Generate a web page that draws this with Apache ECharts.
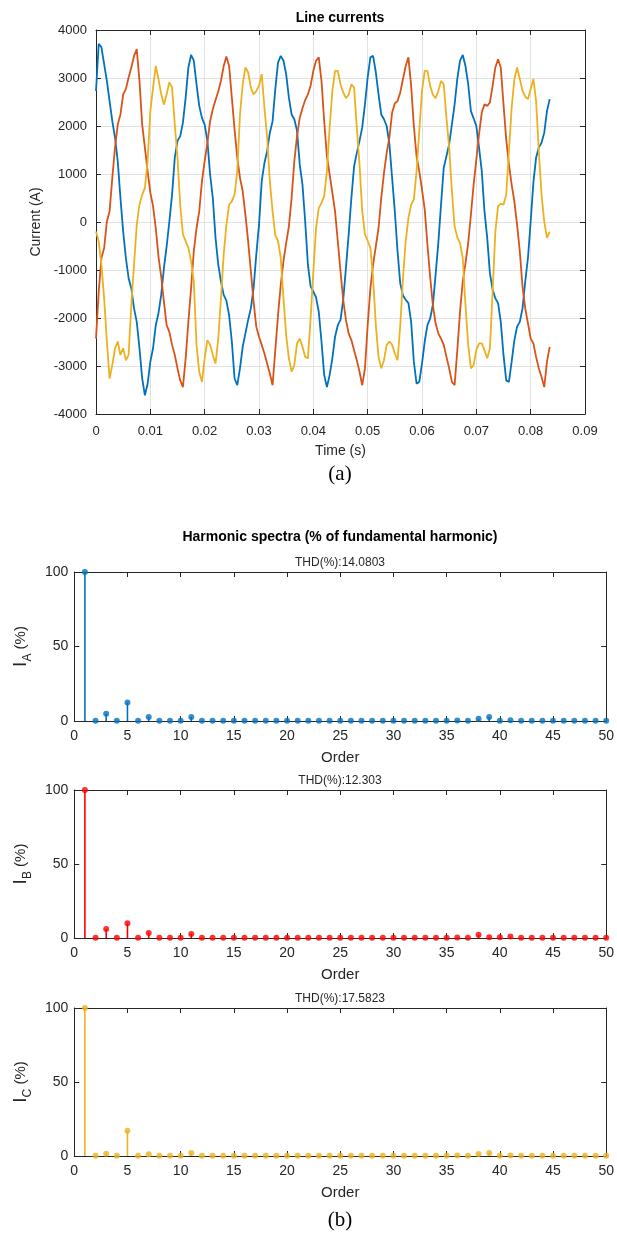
<!DOCTYPE html>
<html><head><meta charset="utf-8">
<script src="https://cdn.jsdelivr.net/npm/echarts@6/dist/echarts.min.js"></script>
<style>html,body{margin:0;padding:0;background:#fff}#c{width:617px;height:1233px}</style>
</head><body><div id="c"></div>
<script>
// ---- Line currents (time in s, currents in A) ----
const TIME = [
0,0.0005,0.001,0.0015,0.002,0.0025,0.003,0.0035,0.004,0.0045,
0.005,0.0055,0.006,0.0065,0.007,0.0075,0.008,0.0085,0.009,0.0095,
0.01,0.0105,0.011,0.0115,0.012,0.0125,0.013,0.0135,0.014,0.0145,
0.015,0.0155,0.016,0.0165,0.017,0.0175,0.018,0.0185,0.019,0.0195,
0.02,0.0205,0.021,0.0215,0.022,0.0225,0.023,0.0235,0.024,0.0245,
0.025,0.0255,0.026,0.0265,0.027,0.0275,0.028,0.0285,0.029,0.0295,
0.03,0.0305,0.031,0.0315,0.032,0.0325,0.033,0.0335,0.034,0.0345,
0.035,0.0355,0.036,0.0365,0.037,0.0375,0.038,0.0385,0.039,0.0395,
0.04,0.0405,0.041,0.0415,0.042,0.0425,0.043,0.0435,0.044,0.0445,
0.045,0.0455,0.046,0.0465,0.047,0.0475,0.048,0.0485,0.049,0.0495,
0.05,0.0505,0.051,0.0515,0.052,0.0525,0.053,0.0535,0.054,0.0545,
0.055,0.0555,0.056,0.0565,0.057,0.0575,0.058,0.0585,0.059,0.0595,
0.06,0.0605,0.061,0.0615,0.062,0.0625,0.063,0.0635,0.064,0.0645,
0.065,0.0655,0.066,0.0665,0.067,0.0675,0.068,0.0685,0.069,0.0695,
0.07,0.0705,0.071,0.0715,0.072,0.0725,0.073,0.0735,0.074,0.0745,
0.075,0.0755,0.076,0.0765,0.077,0.0775,0.078,0.0785,0.079,0.0795,
0.08,0.0805,0.081,0.0815,0.082,0.0825,0.083,0.0835
];
const PHASE_A = [
2730,3710,3640,3290,2940,2520,2100,1760,1270,500,-200,-750,-1170,-1380,-1800,-2080,-2630,-3260,-3610,-3370,
-2910,-2630,-2150,-1900,-1520,-960,-510,10,570,1340,1690,1790,2070,2590,3220,3480,
3360,2870,2420,2170,2030,1690,990,500,-330,-890,-1240,-1520,-1640,-1940,-2490,-3260,-3400,-3050,-2600,-2320,
-2040,-1800,-1380,-680,-60,850,1230,1480,1860,2100,2770,3320,3460,3360,3080,2590,
2240,2140,1900,1200,780,10,-890,-1340,-1450,-1570,-1870,-2490,-3190,-3440,-3190,-2840,-2390,-2150,-2040,-1620,
-960,-260,500,1160,1440,1690,1970,2450,3010,3430,3460,3120,2660,2240,2140,2000,
1620,920,220,-610,-1280,-1530,-1620,-1690,-2080,-2910,-3370,-3330,-2950,-2490,-2150,-2010,-1730,-1100,-440,360,
1130,1370,1620,2030,2450,2980,3360,3480,3250,2870,2310,2160,2000,1550,1060,220,
-330,-1070,-1410,-1590,-1690,-2080,-2770,-3300,-3330,-2910,-2460,-2180,-2080,-1800,-1240,-750,10,820,1340,1550,
1650,1860,2310,2560
];
const PHASE_B = [
-2430,-1450,-750,-540,10,220,920,1550,2030,2240,2660,2770,3010,3220,3460,3600,2940,2030,1550,1060,
610,330,-130,-720,-1140,-1660,-2150,-2290,-2560,-2770,-3050,-3300,-3440,-2840,-2080,-1380,
-610,-130,220,850,1270,1650,2100,2350,2540,2720,2940,3250,3450,3250,2590,1930,1340,920,640,150,
-400,-1030,-1660,-2180,-2390,-2560,-2740,-2950,-3160,-3400,-2670,-1940,-1310,-820,-440,-90,
500,1270,1790,2170,2370,2540,2660,2840,3150,3360,3430,2940,2100,1370,990,610,220,-400,-1030,-1620,
-2040,-2320,-2460,-2670,-2880,-3120,-3400,-3050,-2150,-1380,-890,-510,-130,500,1020,1440,
1760,2280,2470,2520,2700,2980,3250,3430,2840,2000,1370,1060,680,260,-470,-1140,-1730,-2110,-2320,-2430,
-2560,-2810,-3050,-3330,-3400,-2670,-1870,-1240,-860,-440,150,780,1300,1830,2280,2450,
2420,2490,2840,3220,3390,3220,2450,1720,1200,780,430,-60,-610,-1340,-1800,-2110,-2430,-2530,-2810,-3050,
-3230,-3440,-2910,-2600
];
const PHASE_C = [
-200,-400,-890,-1590,-2490,-3260,-2980,-2630,-2490,-2770,-2630,-2880,-2770,-1730,-890,-60,360,570,710,1270,
2310,2800,3250,2980,2660,2450,2660,2910,2800,2030,1340,360,-260,-400,-540,-820,
-1240,-2560,-3120,-3330,-2840,-2460,-2560,-2770,-2950,-2430,-1590,-680,-60,360,430,570,1060,2240,2870,3220,
3120,2800,2660,2730,2840,3080,2380,1760,850,220,-280,-390,-750,-1590,-2360,-2840,
-3120,-2980,-2530,-2430,-2600,-2810,-2840,-2010,-1030,-130,290,400,540,1060,1970,2730,3150,3150,2870,2700,
2580,2650,2870,2800,1970,1200,220,-260,-390,-540,-1170,-2150,-2810,-3050,-2880,-2560,
-2490,-2560,-2740,-2880,-2150,-1170,-400,80,360,470,1060,1900,2730,3150,3150,2840,2650,2580,2730,2940,
2870,2170,1550,640,-90,-320,-440,-750,-1730,-2560,-3050,-2980,-2670,-2530,-2530,-2670,
-2840,-2630,-1450,-200,330,380,360,570,1480,2380,2980,3220,2980,2730,2610,2560,2770,2980,2520,1480,
570,10,-330,-200
];
const TIME_TICKS = [0,0.01,0.02,0.03,0.04,0.05,0.06,0.07,0.08,0.09];
const CURRENT_TICKS = [-4000,-3000,-2000,-1000,0,1000,2000,3000,4000];

// ---- Harmonic spectra (% of fundamental) ----
const ORDERS = [1,2,3,4,5,6,7,8,9,10,11,12,13,14,15,16,17,18,19,20,21,22,23,24,25,26,27,28,29,30,31,32,33,34,35,36,37,38,39,40,41,42,43,44,45,46,47,48,49,50];
const SPEC_A = [100,0.1,4.9,0.1,12.5,0.1,2.7,0.1,0.1,0.1,2.7,0.1,0.1,0.1,0.1,0.1,0.1,0.1,0.1,0.1,0.1,0.1,0.1,0.1,0.1,0.1,0.1,0.1,0.1,0.1,0.1,0.1,0.1,0.1,0.1,0.4,0.1,1.5,2.7,0.2,0.5,0.1,0.1,0.1,0.1,0.1,0.1,0.1,0.1,0.1];
const SPEC_B = [100,0.1,6.1,0.1,9.9,0.1,3.4,0.1,0.1,0.1,2.7,0.1,0.1,0.1,0.1,0.1,0.1,0.1,0.1,0.1,0.1,0.1,0.1,0.1,0.1,0.1,0.1,0.1,0.1,0.1,0.1,0.1,0.1,0.1,0.1,0.4,0.1,2.2,0.5,0.5,1.0,0.1,0.1,0.1,0.1,0.1,0.1,0.1,0.1,0.1];
const SPEC_C = [100,0.1,1.6,0.1,17.1,0.1,1.1,0.1,0.1,0.1,2.0,0.1,0.1,0.1,0.1,0.1,0.1,0.1,0.1,0.1,0.1,0.1,0.1,0.1,0.1,0.1,0.1,0.1,0.1,0.1,0.1,0.1,0.1,0.1,0.1,0.3,0.1,1.4,2.0,0.1,0.3,0.1,0.1,0.1,0.1,0.1,0.1,0.1,0.1,0.1];
const THD = ['THD(%):14.0803','THD(%):12.303','THD(%):17.5823'];
const SPEC_NAMES = ['A','B','C'];

const FONT = '"Liberation Sans", Arial, Helvetica, sans-serif';
const SERIF = '"Liberation Serif", "Times New Roman", serif';
const AX = '#262626';
const COLORS = ['#0072BD','#D95319','#EDB120'];
const STEM_COLORS = ['#0072BD','#FF0000','#EDB120'];

const chart = echarts.init(document.getElementById('c'), null, {renderer:'canvas'});

const grids = [
  {left:96, top:30, width:489, height:384},
  {left:69, top:572, width:541, height:149},
  {left:69, top:790, width:541, height:148},
  {left:69, top:1008, width:541, height:148}
];

function lineAx(){ return {onZero:false, lineStyle:{color:AX, width:1}}; }
function tickAx(){ return {inside:true, length:5, lineStyle:{color:AX}}; }

const xAxis = [], yAxis = [];
// top plot
xAxis.push({gridIndex:0, type:'value', position:'bottom', min:TIME_TICKS[0], max:TIME_TICKS[TIME_TICKS.length-1], interval:0.01,
  axisLine:lineAx(), axisTick:tickAx(),
  axisLabel:{color:AX, fontSize:13, fontFamily:FONT, margin:11, formatter:v=>String(+v.toFixed(2))},
  splitLine:{show:true, lineStyle:{color:'#e2e2e2'}},
  name:'Time (s)', nameLocation:'middle', nameGap:30, nameTextStyle:{color:AX, fontSize:14, fontFamily:FONT}});
xAxis.push({gridIndex:0, type:'value', position:'top', min:0, max:0.09, interval:0.01,
  axisLine:lineAx(), axisTick:tickAx(), axisLabel:{show:false}, splitLine:{show:false}});
yAxis.push({gridIndex:0, type:'value', position:'left', min:CURRENT_TICKS[0], max:CURRENT_TICKS[CURRENT_TICKS.length-1], interval:1000,
  axisLine:lineAx(), axisTick:tickAx(),
  axisLabel:{color:AX, fontSize:13, fontFamily:FONT, margin:9, formatter:v=>String(v)},
  splitLine:{show:true, lineStyle:{color:'#e2e2e2'}},
  name:'Current (A)', nameLocation:'middle', nameGap:44, nameRotate:90, nameTextStyle:{color:AX, fontSize:14, fontFamily:FONT}});
yAxis.push({gridIndex:0, type:'value', position:'right', min:-4000, max:4000, interval:1000,
  axisLine:lineAx(), axisTick:tickAx(), axisLabel:{show:false}, splitLine:{show:false}});

for (let k=0;k<3;k++){
  const g = k+1;
  xAxis.push({gridIndex:g, type:'value', position:'bottom', min:0, max:50, interval:5,
    axisLine:lineAx(), axisTick:tickAx(),
    axisLabel:{color:AX, fontSize:14, fontFamily:FONT, margin:8},
    splitLine:{show:false},
    name:'Order', nameLocation:'middle', nameGap:29, nameTextStyle:{color:AX, fontSize:15, fontFamily:FONT}});
  xAxis.push({gridIndex:g, type:'value', position:'top', min:0, max:50, interval:5,
    axisLine:lineAx(), axisTick:tickAx(), axisLabel:{show:false}, splitLine:{show:false}});
  yAxis.push({gridIndex:g, type:'value', position:'left', min:0, max:100, interval:50,
    axisLine:lineAx(), axisTick:tickAx(),
    axisLabel:{color:AX, fontSize:14, fontFamily:FONT, margin:6},
    splitLine:{show:false},
    name:'{i|I}{s|'+SPEC_NAMES[k]+'}{p| (%)}', nameLocation:'middle', nameGap:40, nameRotate:90,
    nameTextStyle:{color:AX, fontFamily:FONT, lineHeight:26, rich:{
      i:{fontSize:19, fontFamily:FONT, color:AX, lineHeight:26, verticalAlign:'middle'},
      s:{fontSize:12, fontFamily:FONT, color:AX, lineHeight:12, verticalAlign:'bottom'},
      p:{fontSize:15, fontFamily:FONT, color:AX, lineHeight:26, verticalAlign:'middle'}
    }}});
  yAxis.push({gridIndex:g, type:'value', position:'right', min:0, max:100, interval:50,
    axisLine:lineAx(), axisTick:tickAx(), axisLabel:{show:false}, splitLine:{show:false}});
}

const series = [];
[PHASE_A, PHASE_B, PHASE_C].forEach((arr, k) => {
  series.push({type:'line', xAxisIndex:0, yAxisIndex:0, data:TIME.map((t,i)=>[t, arr[i]]),
    showSymbol:false, symbol:'none', lineStyle:{width:1.8, color:COLORS[k]}, itemStyle:{color:COLORS[k]}, z:2+k});
});
[SPEC_A, SPEC_B, SPEC_C].forEach((arr, k) => {
  const idx = 2 + 2*k;
  const col = STEM_COLORS[k];
  const data = ORDERS.map((o,i)=>[o, arr[i]]);
  series.push({type:'custom', xAxisIndex:idx, yAxisIndex:idx, data:data, clip:false,
    renderItem:(params, api) => {
      const p0 = api.coord([api.value(0), 0]);
      const p1 = api.coord([api.value(0), api.value(1)]);
      return {type:'line', shape:{x1:p0[0], y1:p0[1], x2:p1[0], y2:p1[1]}, style:{stroke:col, lineWidth:1.6}};
    }, z:3});
  series.push({type:'scatter', xAxisIndex:idx, yAxisIndex:idx, data:data, symbol:'circle', symbolSize:6,
    itemStyle:{color:col}, clip:false, z:4});
});

const graphic = [
  {type:'text', x:340, y:18, style:{text:'Line currents', font:'bold 14px '+FONT, fill:'#000', textAlign:'center', textVerticalAlign:'middle'}},
  {type:'text', x:340, y:474, style:{text:'(a)', font:'21px '+SERIF, fill:'#000', textAlign:'center', textVerticalAlign:'middle'}},
  {type:'text', x:340, y:537, style:{text:'Harmonic spectra (% of fundamental harmonic)', font:'bold 14px '+FONT, fill:'#000', textAlign:'center', textVerticalAlign:'middle'}},
  {type:'text', x:340, y:563, style:{text:THD[0], font:'12px '+FONT, fill:AX, textAlign:'center', textVerticalAlign:'middle'}},
  {type:'text', x:340, y:781, style:{text:THD[1], font:'12px '+FONT, fill:AX, textAlign:'center', textVerticalAlign:'middle'}},
  {type:'text', x:340, y:999, style:{text:THD[2], font:'12px '+FONT, fill:AX, textAlign:'center', textVerticalAlign:'middle'}},
  {type:'text', x:340, y:1220, style:{text:'(b)', font:'21px '+SERIF, fill:'#000', textAlign:'center', textVerticalAlign:'middle'}}
];

chart.setOption({
  animation:false,
  backgroundColor:'#ffffff',
  grid:grids,
  xAxis:xAxis,
  yAxis:yAxis,
  series:series,
  graphic:graphic
});
</script></body></html>
